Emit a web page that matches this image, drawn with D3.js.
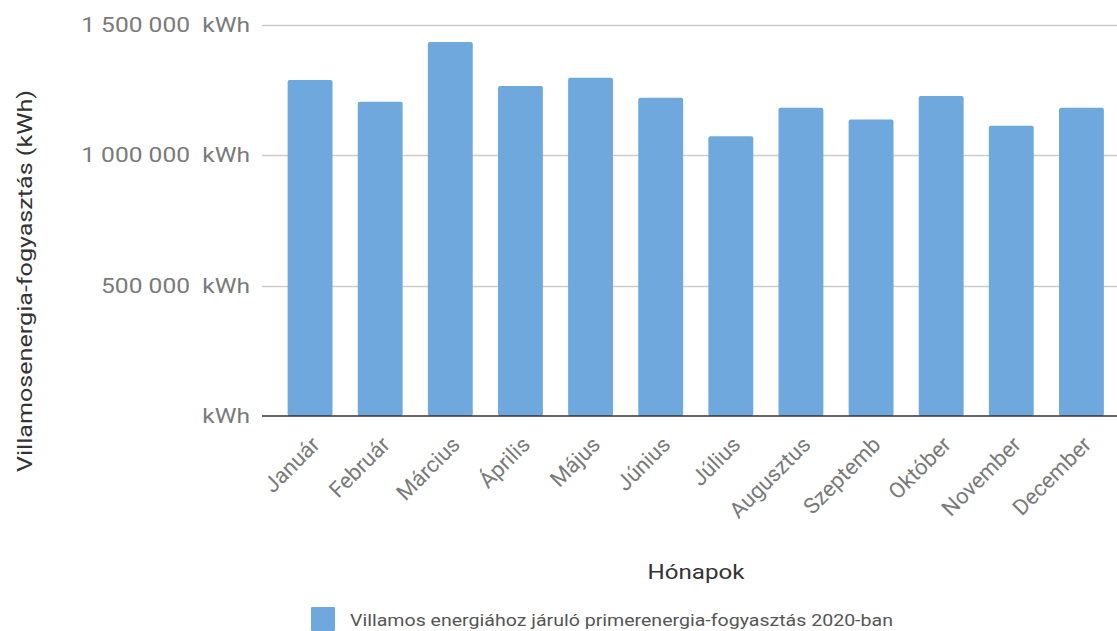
<!DOCTYPE html>
<html>
<head>
<meta charset="utf-8">
<script src="https://cdn.jsdelivr.net/npm/d3@7"></script>
<style>
  body { margin: 0; background: #fff; }
  svg text { font-family: Roboto, "Noto Sans", sans-serif; }
</style>
</head>
<body>
<svg id="chart" width="1117" height="631"></svg>
<script>
const months = ['Január', 'Február', 'Március', 'Április', 'Május', 'Június',
  'Július', 'Augusztus', 'Szeptemb', 'Október', 'November', 'December'];
const consumption = [1287000, 1204000, 1433000, 1264000, 1296000, 1219000,
  1072000, 1181000, 1136000, 1226000, 1112000, 1181000];
const yTicks = [0, 500000, 1000000, 1500000];
const seriesName = 'Villamos energiához járuló primerenergia-fogyasztás 2020-ban';

const svg = d3.select('#chart');
const plotLeft = 262, plotRight = 1117;
const y = d3.scaleLinear().domain([0, 1500000]).range([416, 24.5]);
const x = d3.scaleBand().domain(months).range([275, 1116.5]).paddingInner(0.36).paddingOuter(0.18);

const fmt = v => v === 0 ? 'kWh' : d3.format(',')(v).replace(/,/g, ' ') + '  kWh';

// the reference picture is a bit wider than normal text, so widen glyphs
function stretch(sel, k) {
  sel.each(function () {
    const len = this.getComputedTextLength();
    d3.select(this).attr('textLength', len * k).attr('lengthAdjust', 'spacingAndGlyphs');
  });
}

// gridlines
svg.append('g').selectAll('line').data(yTicks.filter(d => d > 0)).join('line')
  .attr('x1', plotLeft).attr('x2', plotRight)
  .attr('y1', d => Math.round(y(d)) + 0.5).attr('y2', d => Math.round(y(d)) + 0.5)
  .attr('stroke', '#cccccc').attr('stroke-width', 1.5);

// y labels
svg.append('g').selectAll('text').data(yTicks).join('text')
  .attr('x', 250).attr('y', d => y(d))
  .attr('dy', '0.35em')
  .attr('text-anchor', 'end')
  .attr('font-size', 21)
  .attr('fill', '#7a7a7a')
  .style('white-space', 'pre')
  .text(fmt)
  .call(stretch, 1.17);

// bars
svg.append('g').selectAll('rect').data(consumption).join('rect')
  .attr('x', (d, i) => x(months[i]))
  .attr('width', x.bandwidth())
  .attr('y', d => y(d))
  .attr('height', d => y(0) - y(d))
  .attr('rx', 2)
  .attr('fill', '#6fa8dc');

// baseline
svg.append('line')
  .attr('x1', plotLeft).attr('x2', plotRight)
  .attr('y1', y(0)).attr('y2', y(0))
  .attr('stroke', '#333').attr('stroke-width', 1.5);

// x labels
svg.append('g').selectAll('text').data(months).join('text')
  .attr('transform', d => `translate(${x(d) + x.bandwidth() / 2 + 11},${y(0) + 30}) rotate(-45)`)
  .attr('text-anchor', 'end')
  .attr('font-size', 22)
  .attr('fill', '#7a7a7a')
  .text(d => d);

// axis titles
svg.append('text')
  .attr('transform', `translate(32,281) rotate(-90)`)
  .attr('text-anchor', 'middle')
  .attr('font-size', 21)
  .attr('fill', '#333')
  .attr('textLength', 382)
  .attr('lengthAdjust', 'spacingAndGlyphs')
  .text('Villamosenergia-fogyasztás (kWh)');

svg.append('text')
  .attr('x', 696).attr('y', 579)
  .attr('text-anchor', 'middle')
  .attr('font-size', 21)
  .attr('fill', '#333')
  .text('Hónapok')
  .call(stretch, 1.15);

// legend
const legend = svg.append('g');
legend.append('rect')
  .attr('x', 311).attr('y', 607).attr('width', 24).attr('height', 24).attr('rx', 1)
  .attr('fill', '#6fa8dc');
legend.append('text')
  .attr('x', 350).attr('y', 626)
  .attr('font-size', 17)
  .attr('fill', '#555')
  .text(seriesName)
  .call(stretch, 1.15);
</script>
</body>
</html>
